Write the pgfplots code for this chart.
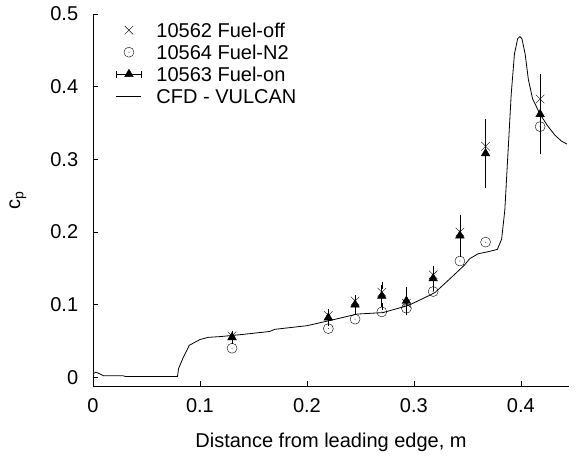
\documentclass[border=0pt]{standalone}
\usepackage{fontspec}
\setmainfont{Liberation Sans}
\usepackage{pgfplots}
\pgfplotsset{compat=1.18}

\pgfdeclareplotmark{odot}{%
  \pgfpathcircle{\pgfpointorigin}{\pgfplotmarksize}\pgfusepathqstroke
  \pgfpathcircle{\pgfpointorigin}{0.45pt}\pgfusepathqfill}

\begin{document}
\fontsize{20bp}{24bp}\selectfont
\begin{tikzpicture}
\begin{axis}[scale only axis,width=476bp,height=372bp,
 xmin=0,xmax=0.445,ymin=-0.012,ymax=0.5,
 axis x line=bottom,axis y line=left,axis line style={-,line width=0.8pt},
 xtick={0,0.1,0.2,0.3,0.4},ytick={0,0.1,0.2,0.3,0.4,0.5},
 xticklabels={0,0.1,0.2,0.3,0.4},yticklabels={0,0.1,0.2,0.3,0.4,0.5},
 tick align=inside,major tick length=5bp,tick style={black,line width=0.6pt},
 tick label style={font=\fontsize{20bp}{24bp}\selectfont},
 xticklabel style={yshift=-6bp},yticklabel style={xshift=-8bp},
 label style={font=\fontsize{20bp}{24bp}\selectfont},
 /pgf/number format/assume math mode=true,
 xlabel={Distance from leading edge, m},
 xlabel style={at={(axis description cs:0.5,0)},anchor=center,yshift=-56bp},
 ylabel={c\textsubscript{p}},
 ylabel style={at={(axis description cs:-0.158,0.5)},anchor=center},
 legend style={draw=none,fill=none,inner sep=0pt,
  at={(axis description cs:0.048,1)},anchor=north west,yshift=-5bp,
  font=\fontsize{20bp}{24bp}\selectfont,row sep=0pt,
  nodes={text height=14bp,text depth=0bp,inner ysep=4bp,inner xsep=3bp}},
 legend cell align=left]
\addplot[black,only marks,mark=x,mark size=6bp,
 legend image code/.code={\path[draw=none,fill=none] (0bp,0bp) -- (37bp,0bp);
  \draw[black,mark=x,mark size=6bp,only marks] plot coordinates {(12.5bp,0bp)};}]
 coordinates {
 (0.130,0.057) (0.220,0.085) (0.245,0.105) (0.270,0.117) (0.293,0.102)
 (0.318,0.141) (0.343,0.200) (0.367,0.318) (0.418,0.383)};
\addlegendentry{10562 Fuel-off}
\addplot[black,only marks,mark=odot,mark size=5bp,
 legend image code/.code={\path[draw=none,fill=none] (0bp,0bp) -- (37bp,0bp);
  \draw[black,mark=odot,mark size=5bp,only marks] plot coordinates {(12.5bp,0bp)};}]
 coordinates {
 (0.130,0.040) (0.220,0.067) (0.245,0.080) (0.270,0.090) (0.293,0.095)
 (0.318,0.118) (0.343,0.160) (0.367,0.186) (0.418,0.345)};
\addlegendentry{10564 Fuel-N2}
\addplot[black,only marks,mark=triangle*,mark size=5bp,
 legend image code/.code={\path[draw=none,fill=none] (0bp,0bp) -- (37bp,0bp);
  \draw[black,line width=0.6pt] (0bp,0bp) -- (25bp,0bp)
   (0bp,-3.5bp) -- (0bp,3.5bp) (25bp,-3.5bp) -- (25bp,3.5bp);
  \draw[black,mark=triangle*,mark size=5bp,only marks] plot coordinates {(12.5bp,0bp)};},
 error bars/.cd,y dir=both,y explicit,
 error mark options={black,mark size=3.5bp,line width=0.6pt},
 error bar style={line width=0.7pt}]
 coordinates {
 (0.130,0.055) +- (0,0.004) (0.220,0.082) +- (0,0.007) (0.245,0.100) +- (0,0.008)
 (0.270,0.112) +- (0,0.015) (0.293,0.105) +- (0,0.015) (0.318,0.136) +- (0,0.013)
 (0.343,0.195) +- (0,0.024) (0.367,0.308) +- (0,0.043) (0.418,0.362) +- (0,0.050)};
\addlegendentry{10563 Fuel-on}
\addplot[black,line width=0.8pt,mark=none,
 legend image code/.code={\path[draw=none,fill=none] (0bp,0bp) -- (37bp,0bp);
  \draw[black,line width=0.8pt] (0bp,0bp) -- (25bp,0bp);}]
 coordinates {
 (0,0.005) (0.003,0.007) (0.010,0.002) (0.028,0.002) (0.031,0.001)
 (0.050,0.001) (0.079,0.001) (0.080,0.012) (0.084,0.026) (0.090,0.044)
 (0.100,0.052) (0.108,0.055) (0.119,0.056) (0.140,0.059) (0.165,0.063)
 (0.170,0.066) (0.200,0.071) (0.221,0.078) (0.247,0.087) (0.271,0.089)
 (0.295,0.099) (0.315,0.113) (0.320,0.117) (0.334,0.136) (0.347,0.154)
 (0.352,0.163) (0.360,0.170) (0.370,0.173) (0.378,0.176) (0.382,0.190)
 (0.385,0.230) (0.388,0.310) (0.391,0.390) (0.394,0.445) (0.397,0.466)
 (0.399,0.469) (0.401,0.466) (0.404,0.445) (0.407,0.410) (0.411,0.383)
 (0.418,0.362) (0.425,0.346) (0.432,0.333) (0.438,0.325) (0.443,0.321)};
\addlegendentry{CFD - VULCAN}
\end{axis}
\pgfresetboundingbox
\path (-93bp,-71bp) rectangle (484bp,386bp);
\end{tikzpicture}
\end{document}
